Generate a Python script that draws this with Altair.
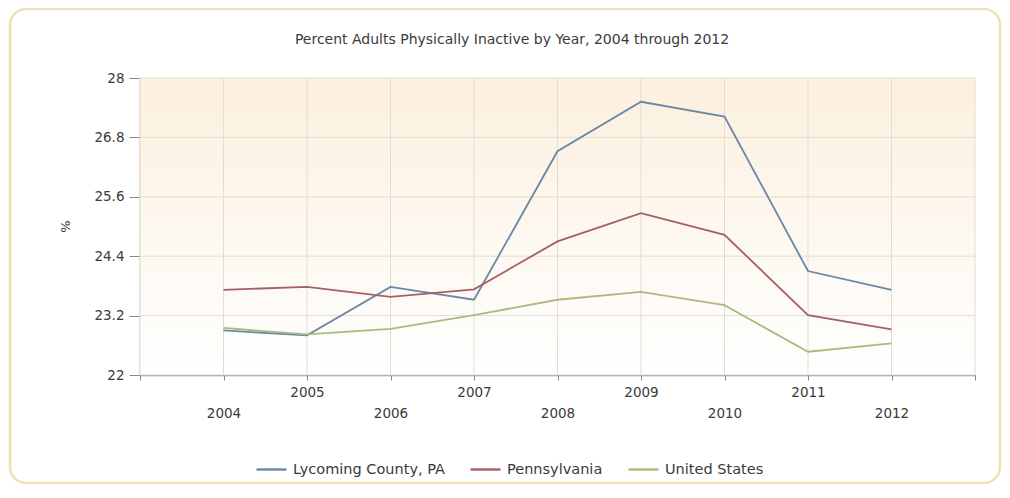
import altair as alt
import pandas as pd

# ---- data ----
years = [2004, 2005, 2006, 2007, 2008, 2009, 2010, 2011, 2012]
lycoming = [22.90, 22.80, 23.78, 23.52, 26.52, 27.52, 27.22, 24.10, 23.72]
pennsylvania = [23.72, 23.78, 23.58, 23.73, 24.70, 25.27, 24.83, 23.21, 22.92]
united_states = [22.95, 22.82, 22.93, 23.21, 23.52, 23.68, 23.41, 22.47, 22.64]

series_names = ["Lycoming County, PA", "Pennsylvania", "United States"]
series_colors = ["#6a87a3", "#a55f66", "#abbb80"]

y_ticks = [22, 23.2, 24.4, 25.6, 26.8, 28]
x_ticks = list(range(2003, 2014))
title_text = "Percent Adults Physically Inactive by Year, 2004 through 2012"

rows = []
for name, vals in zip(series_names, [lycoming, pennsylvania, united_states]):
    for yr, v in zip(years, vals):
        rows.append({"Year": yr, "Value": v, "Series": name})
df = pd.DataFrame(rows)

W, H = 835, 297
FONT = "DejaVu Sans"
TXT = "#3a3a3a"
GRID = "#e2ddd4"
AXC = "#8a8a8a"

x_scale = alt.Scale(domain=[2003, 2013], nice=False, zero=False)
y_scale = alt.Scale(domain=[22, 28], nice=False, zero=False)

label_expr = (
    "(datum.value < 2004 || datum.value > 2012) ? '' : "
    "(datum.value % 2 == 0 ? ['', format(datum.value, 'd')] : format(datum.value, 'd'))"
)

one_row = alt.Data(values=[{"k": 1}])

gradient = alt.LinearGradient(
    gradient="linear", x1=0, y1=0, x2=0, y2=1,
    stops=[
        alt.GradientStop(offset=0, color="#fcf0de"),
        alt.GradientStop(offset=0.55, color="#fdf8f0"),
        alt.GradientStop(offset=1, color="#ffffff"),
    ],
)

bg = alt.Chart(one_row).mark_rect(color=gradient).encode(
    x=alt.value(0), x2=alt.value(W), y=alt.value(0), y2=alt.value(H)
)

vgrid = alt.Chart(pd.DataFrame({"Year": x_ticks})).mark_rule(
    color=GRID, strokeWidth=1
).encode(x=alt.X("Year:Q", scale=x_scale))

hgrid = alt.Chart(pd.DataFrame({"Value": y_ticks})).mark_rule(
    color=GRID, strokeWidth=1
).encode(y=alt.Y("Value:Q", scale=y_scale))

lines = alt.Chart(df).mark_line(strokeWidth=1.8).encode(
    x=alt.X(
        "Year:Q",
        scale=x_scale,
        axis=alt.Axis(
            values=x_ticks, title=None, labelExpr=label_expr,
            labelLineHeight=21, labelBaseline="top", labelPadding=5,
            labelOverlap=False, labelFlush=False, labelFont=FONT, labelFontSize=13.5,
            labelColor=TXT, tickSize=5, tickColor=AXC, domainColor=AXC,
            domainWidth=1.5, grid=False,
        ),
    ),
    y=alt.Y(
        "Value:Q",
        scale=y_scale,
        axis=alt.Axis(
            values=y_ticks, labelExpr="format(datum.value, '.3~g')", title="%",
            titleAngle=-90, titleX=-75, titleY=148, titleAlign="center",
            titleBaseline="middle", titleFont=FONT, titleFontSize=13,
            titleFontWeight="normal", titleColor=TXT,
            labelFont=FONT, labelFontSize=13.5, labelColor=TXT, labelPadding=5,
            tickSize=11, tickColor=AXC, domainColor=AXC, domainWidth=1.5,
            grid=False,
        ),
    ),
    color=alt.Color(
        "Series:N",
        scale=alt.Scale(domain=series_names, range=series_colors),
        legend=alt.Legend(
            orient="none", legendX=115, legendY=375, direction="horizontal",
            title=None, symbolType="stroke", symbolSize=900, symbolStrokeWidth=2.4,
            labelFont=FONT, labelFontSize=14.5, labelColor=TXT, labelOffset=5,
            columnPadding=20, padding=0,
        ),
    ),
)

frame = alt.Chart(one_row).mark_rect(
    fillOpacity=0, stroke="#ece2b6", strokeWidth=2.5, cornerRadius=16
).encode(
    x=alt.value(-130), x2=alt.value(860), y=alt.value(-69), y2=alt.value(405)
)

title = alt.Chart(one_row).mark_text(
    font=FONT, fontSize=14, color=TXT, align="center", baseline="middle"
).encode(
    x=alt.value(372), y=alt.value(-38), text=alt.value(title_text)
)

chart = alt.layer(bg, vgrid, hgrid, lines, frame, title).properties(
    width=W, height=H,
    padding={"left": 132, "top": 70, "right": 27, "bottom": 109},
    autosize=alt.AutoSizeParams(type="none"),
    background="#ffffff",
).configure_view(stroke="transparent")

chart.save("out.html", embed_options={"renderer": "svg", "actions": False})
